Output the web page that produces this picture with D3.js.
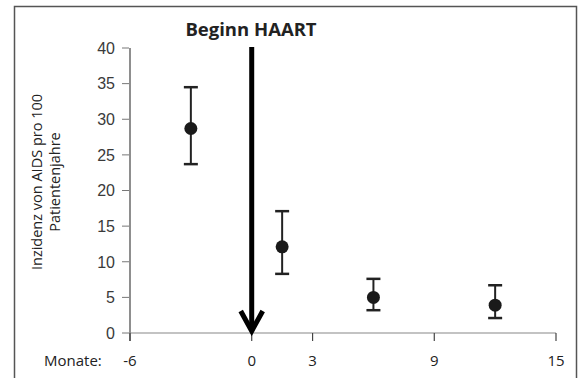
<!DOCTYPE html>
<html>
<head>
<meta charset="utf-8">
<script src="https://cdn.jsdelivr.net/npm/d3@7"></script>
<style>
  body { margin: 0; background: #fff; }
  svg { display: block; }
</style>
</head>
<body>
<div id="chart"></div>
<script>
const months = [-3, 1.5, 6, 12]
const incidence = [28.7, 12.1, 5.0, 3.9]
const upper = [34.5, 17.1, 7.6, 6.7]
const lower = [23.7, 8.3, 3.2, 2.1]
const yTicks = [0, 5, 10, 15, 20, 25, 30, 35, 40]
const xTicks = [-6, 0, 3, 9, 15]

const width = 582
const height = 378

const svg = d3.select('#chart')
  .append('svg')
  .attr('width', width)
  .attr('height', height)

// frame
svg.append('rect')
  .attr('x', 14.5).attr('y', 6.5)
  .attr('width', 562).attr('height', 390)
  .attr('fill', 'none')
  .attr('stroke', '#555')
  .attr('stroke-width', 1.5)

const x = d3.scaleLinear().domain([-6, 15]).range([130, 556])
const y = d3.scaleLinear().domain([0, 40]).range([333, 48])

// y axis
svg.append('line')
  .attr('x1', x(-6)).attr('x2', x(-6))
  .attr('y1', y(40)).attr('y2', y(0) + 8)
  .attr('stroke', '#444').attr('stroke-width', 1.2)

svg.selectAll('.ytick')
  .data(yTicks)
  .enter()
  .append('line')
  .attr('x1', x(-6) - 8).attr('x2', x(-6) - 1)
  .attr('y1', d => y(d)).attr('y2', d => y(d))
  .attr('stroke', '#777').attr('stroke-width', 1)

svg.selectAll('.ylab')
  .data(yTicks)
  .enter()
  .append('text')
  .attr('x', x(-6) - 15)
  .attr('y', d => y(d))
  .attr('dy', '0.36em')
  .attr('text-anchor', 'end')
  .attr('font-family', '"Liberation Sans", Arial, sans-serif')
  .attr('font-size', 16)
  .attr('fill', '#3a3a3a')
  .text(d => d)

// x axis
svg.append('line')
  .attr('x1', x(-6)).attr('x2', x(15))
  .attr('y1', y(0)).attr('y2', y(0))
  .attr('stroke', '#888').attr('stroke-width', 1.2)

svg.selectAll('.xtick')
  .data(xTicks)
  .enter()
  .append('line')
  .attr('x1', d => x(d)).attr('x2', d => x(d))
  .attr('y1', y(0)).attr('y2', y(0) + 8)
  .attr('stroke', '#444').attr('stroke-width', 1.2)

const calibri = '"Open Sans", "Noto Sans", sans-serif'

svg.selectAll('.xlab')
  .data(xTicks)
  .enter()
  .append('text')
  .attr('x', d => x(d))
  .attr('y', 366)
  .attr('text-anchor', 'middle')
  .attr('font-family', calibri)
  .attr('font-size', 15)
  .attr('fill', '#222')
  .text(d => d)

svg.append('text')
  .attr('x', 44).attr('y', 366)
  .attr('font-family', calibri)
  .attr('font-size', 15)
  .attr('fill', '#222')
  .text('Monate:')

// y axis title
const yTitle = svg.append('text')
  .attr('transform', 'translate(42,182) rotate(-90)')
  .attr('text-anchor', 'middle')
  .attr('font-family', calibri)
  .attr('font-size', 14.5)
  .attr('fill', '#222')
yTitle.append('tspan').attr('x', 0).attr('dy', 0).text('Inzidenz von AIDS pro 100')
yTitle.append('tspan').attr('x', 0).attr('dy', 18).text('Patientenjahre')

// title
svg.append('text')
  .attr('x', 251).attr('y', 36)
  .attr('text-anchor', 'middle')
  .attr('font-family', calibri)
  .attr('font-size', 18.5)
  .attr('font-weight', 'bold')
  .attr('fill', '#222')
  .text('Beginn HAART')

// arrow
svg.append('line')
  .attr('x1', x(0)).attr('x2', x(0))
  .attr('y1', 47).attr('y2', y(0) - 3)
  .attr('stroke', '#000').attr('stroke-width', 5)

svg.append('path')
  .attr('d', `M${x(0) - 11},${y(0) - 22} L${x(0)},${y(0) - 2} L${x(0) + 11},${y(0) - 22}`)
  .attr('fill', 'none')
  .attr('stroke', '#000').attr('stroke-width', 5)

// error bars
const points = months.map((m, i) => ({ m, v: incidence[i], hi: upper[i], lo: lower[i] }))

const g = svg.selectAll('.pt')
  .data(points)
  .enter()
  .append('g')

g.append('line')
  .attr('x1', d => x(d.m)).attr('x2', d => x(d.m))
  .attr('y1', d => y(d.hi)).attr('y2', d => y(d.lo))
  .attr('stroke', '#222').attr('stroke-width', 2)

g.append('line')
  .attr('x1', d => x(d.m) - 7).attr('x2', d => x(d.m) + 7)
  .attr('y1', d => y(d.hi)).attr('y2', d => y(d.hi))
  .attr('stroke', '#222').attr('stroke-width', 2.5)

g.append('line')
  .attr('x1', d => x(d.m) - 7).attr('x2', d => x(d.m) + 7)
  .attr('y1', d => y(d.lo)).attr('y2', d => y(d.lo))
  .attr('stroke', '#222').attr('stroke-width', 2.5)

g.append('circle')
  .attr('cx', d => x(d.m))
  .attr('cy', d => y(d.v))
  .attr('r', 6.5)
  .attr('fill', '#1a1a1a')
</script>
</body>
</html>
